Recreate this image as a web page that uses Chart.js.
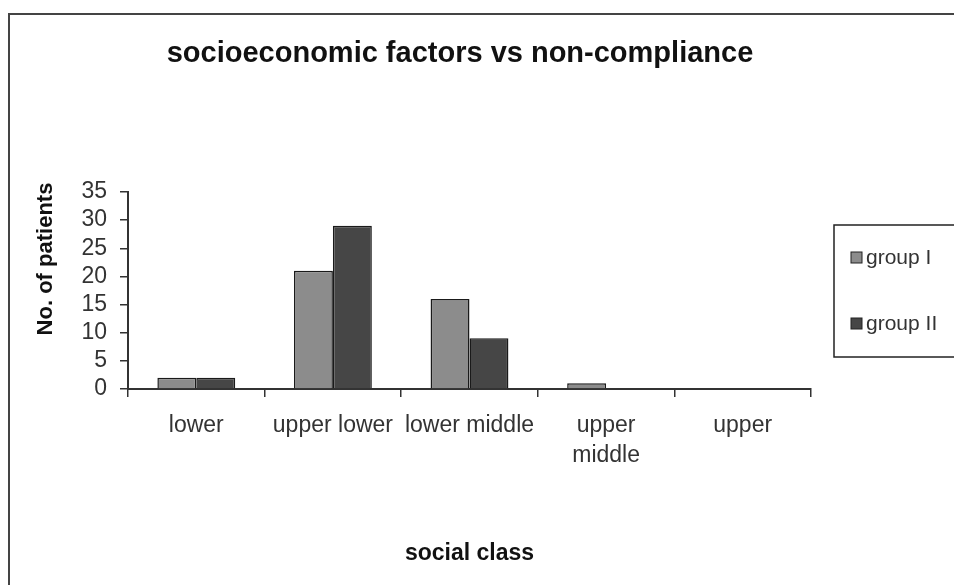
<!DOCTYPE html>
<html>
<head>
<meta charset="utf-8">
<script src="https://cdn.jsdelivr.net/npm/chart.js@4"></script>
<style>
    body { margin: 0; background: #fff; }
    #chart { display: block; }
</style>
</head>
<body>
<canvas id="chart" width="954" height="585"></canvas>
<script>
const socialClasses = ['lower', 'upper lower', 'lower middle', ['upper', 'middle'], 'upper'];
const groupOne = [2, 21, 16, 1, 0];
const groupTwo = [2, 29, 9, 0, 0];
const yTicks = [0, 5, 10, 15, 20, 25, 30, 35];

const chartTitle = 'socioeconomic factors vs non-compliance';
const yTitle = 'No. of patients';
const xTitle = 'social class';

const textColor = '#333';
const fontName = '"Liberation Sans", Arial, sans-serif';

// frame, title, y title and the boxed legend on the right
const decorations = {
    id: 'decorations',
    beforeDraw(chart) {
        const ctx = chart.ctx;
        ctx.save();
        ctx.strokeStyle = '#444';
        ctx.lineWidth = 2;
        ctx.strokeRect(9, 14, chart.width, chart.height);
        ctx.restore();
    },
    afterDraw(chart) {
        const ctx = chart.ctx;
        ctx.save();
        ctx.fillStyle = '#111';
        ctx.textAlign = 'center';
        ctx.textBaseline = 'middle';
        ctx.font = 'bold 29px ' + fontName;
        ctx.fillText(chartTitle, 460, 54);

        ctx.translate(46, 259);
        ctx.rotate(-Math.PI / 2);
        ctx.font = 'bold 22px ' + fontName;
        ctx.fillText(yTitle, 0, 0);
        ctx.restore();

        ctx.save();
        ctx.strokeStyle = '#222';
        ctx.lineWidth = 1.5;
        ctx.strokeRect(834, 225, 140, 132);
        ctx.font = '21px ' + fontName;
        ctx.textBaseline = 'middle';
        chart.data.datasets.forEach(function(ds, i) {
            const cy = 258 + i * 66;
            ctx.fillStyle = ds.backgroundColor;
            ctx.fillRect(851, cy - 6, 11, 11);
            ctx.strokeStyle = '#222';
            ctx.lineWidth = 1;
            ctx.strokeRect(851, cy - 6, 11, 11);
            ctx.fillStyle = textColor;
            ctx.fillText(ds.label, 866, cy);
        });
        ctx.restore();
    }
};

const ctx = document.getElementById('chart').getContext('2d');
new Chart(ctx, {
    type: 'bar',
    data: {
        labels: socialClasses,
        datasets: [{
            label: 'group I',
            data: groupOne,
            backgroundColor: '#8c8c8c',
            borderColor: '#1a1a1a',
            borderWidth: 1.5
        }, {
            label: 'group II',
            data: groupTwo,
            backgroundColor: '#464646',
            borderColor: '#1a1a1a',
            borderWidth: 1.5
        }]
    },
    options: {
        responsive: false,
        animation: false,
        categoryPercentage: 0.57,
        barPercentage: 1.0,
        layout: {
            padding: { left: 0, top: 192, right: 143, bottom: 0 }
        },
        plugins: {
            legend: { display: false },
            title: { display: false },
            tooltip: { enabled: false }
        },
        scales: {
            x: {
                grid: { drawOnChartArea: false, drawTicks: true, tickLength: 8, color: '#333', lineWidth: 1.5, offset: true },
                border: { color: '#333', width: 2 },
                ticks: {
                    color: textColor,
                    padding: 14,
                    maxRotation: 0,
                    autoSkip: false,
                    font: { family: fontName, size: 23, lineHeight: 1.3 }
                },
                title: {
                    display: true,
                    text: xTitle,
                    color: '#111',
                    padding: { top: 0, bottom: 18 },
                    font: { family: fontName, size: 23, weight: 'bold' }
                },
                afterFit(scale) { scale.height = 196; }
            },
            y: {
                min: 0,
                max: 35,
                grid: { drawOnChartArea: false, drawTicks: true, tickLength: 8, color: '#333', lineWidth: 1.5 },
                border: { color: '#333', width: 2 },
                afterBuildTicks(scale) { scale.ticks = yTicks.map(v => ({ value: v })); },
                ticks: {
                    color: textColor,
                    padding: 13,
                    autoSkip: false,
                    font: { family: fontName, size: 23, lineHeight: 1 }
                },
                afterFit(scale) { scale.width = 128; }
            }
        }
    },
    plugins: [decorations]
});
</script>
</body>
</html>
